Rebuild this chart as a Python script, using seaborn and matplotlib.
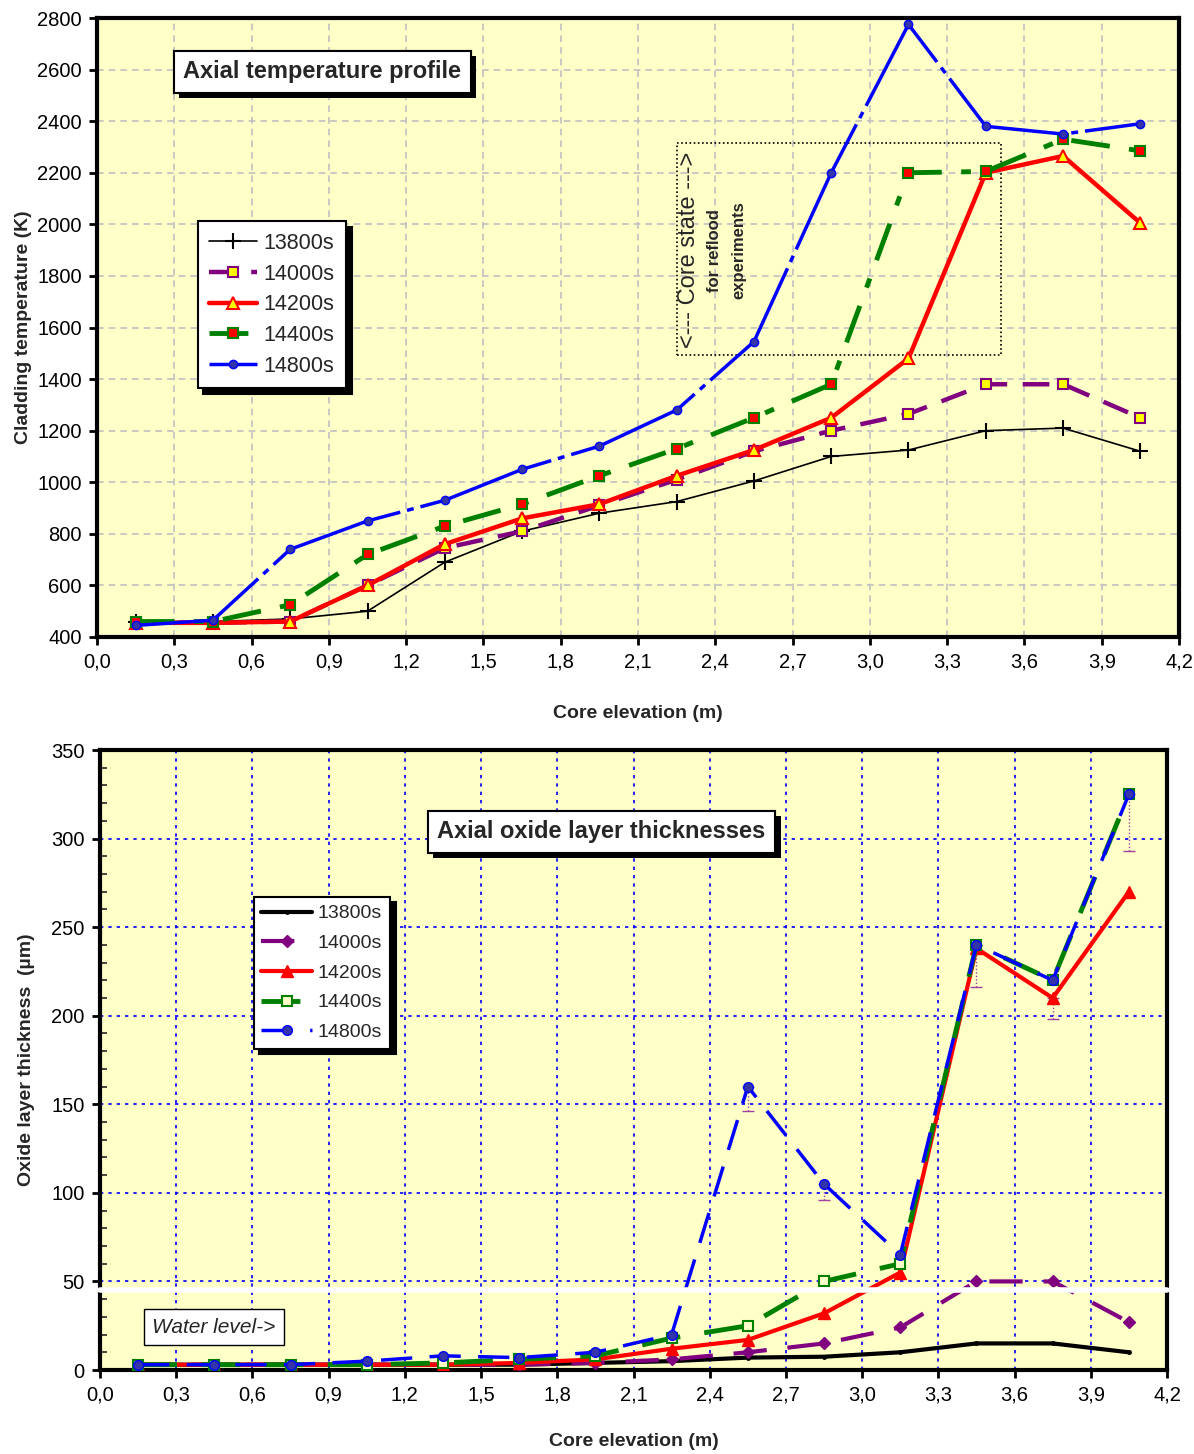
import numpy as np
import pandas as pd
import matplotlib
matplotlib.use("Agg")
import matplotlib.pyplot as plt
import matplotlib.patheffects as pe
from matplotlib.patches import Rectangle
from matplotlib.ticker import FuncFormatter, MultipleLocator
import seaborn as sns

# ---------------- data ----------------
elevation = [0.15, 0.45, 0.75, 1.05, 1.35, 1.65, 1.95, 2.25, 2.55, 2.85, 3.15, 3.45, 3.75, 4.05]
series_names = ["13800s", "14000s", "14200s", "14400s", "14800s"]

temp_13800 = [460, 460, 470, 500, 690, 810, 880, 925, 1005, 1100, 1125, 1200, 1210, 1120]
temp_14000 = [455, 455, 460, 600, 745, 810, 910, 1010, 1120, 1200, 1265, 1380, 1380, 1250]
temp_14200 = [455, 455, 460, 600, 760, 860, 915, 1025, 1125, 1250, 1480, 2200, 2265, 2005]
temp_14400 = [460, 460, 525, 720, 830, 915, 1025, 1130, 1250, 1380, 2200, 2205, 2330, 2285]
temp_14800 = [445, 465, 740, 850, 930, 1050, 1140, 1280, 1545, 2200, 2775, 2380, 2350, 2390]

ox_13800 = [3, 3, 3, 3, 3, 3, 4, 5, 7, 7.5, 10, 15, 15, 10]
ox_14000 = [3, 3, 3, 3, 3, 3, 4, 6, 10, 15, 24, 50, 50, 27]
ox_14200 = [3, 3, 3, 3, 3, 4, 6, 12, 17, 32, 55, 238, 210, 270]
ox_14400 = [3, 3, 3, 3, 4, 6, 8, 18, 25, 50, 60, 240, 220, 325]
ox_14800 = [3, 3, 3, 5, 8, 7, 10, 20, 160, 105, 65, 240, 220, 325]

err_x = [2.55, 2.85, 3.45, 3.75, 4.05]
err_hi = [160, 105, 240, 210, 325]
err_lo = [146, 96, 216, 198, 293]

water_level = 45

x_ticks = [0.0, 0.3, 0.6, 0.9, 1.2, 1.5, 1.8, 2.1, 2.4, 2.7, 3.0, 3.3, 3.6, 3.9, 4.2]
temp_ticks = list(range(400, 2801, 200))
ox_ticks = list(range(0, 351, 50))

# ---------------- style ----------------
sns.set_style("ticks")
plt.rcParams['font.family'] = ['Liberation Sans', 'DejaVu Sans']
plt.rcParams['axes.unicode_minus'] = False

BG = "#FFFFC8"
fig = plt.figure(figsize=(11.94, 14.54), dpi=100)
fig.patch.set_facecolor("white")

ax1 = fig.add_axes([97/1194, 1-637/1454, (1179-97)/1194, (637-18)/1454])
ax2 = fig.add_axes([100/1194, 1-1370/1454, (1167-100)/1194, (1370-750)/1454])

comma = FuncFormatter(lambda v, p: f"{v:.1f}".replace(".", ","))

def frame(ax):
    ax.set_facecolor(BG)
    for s in ax.spines.values():
        s.set_color("black")
        s.set_linewidth(3)
    ax.tick_params(axis="both", which="major", direction="out", length=6, width=2,
                   labelsize=14.5, pad=5, colors="black")

# ---------------- top chart ----------------
frame(ax1)
temp_df = pd.DataFrame({"x": elevation, "13800s": temp_13800, "14000s": temp_14000,
                        "14200s": temp_14200, "14400s": temp_14400, "14800s": temp_14800})

top_styles = {
    "13800s": dict(color="black", lw=1.2, ls="-", marker="+", ms=11, mfc="black", mec="black", mew=1.5),
    "14000s": dict(color="#800080", lw=3.2, ls=(0, (6, 3.5)), marker="s", ms=7, mfc="yellow", mec="#800080", mew=1.5),
    "14200s": dict(color="red", lw=3.2, ls="-", marker="^", ms=8, mfc="yellow", mec="red", mew=1.5),
    "14400s": dict(color="#008000", lw=3.5, ls=(0, (8, 4, 2, 4)), marker="s", ms=7, mfc="red", mec="#008000", mew=1.5),
    "14800s": dict(color="blue", lw=2.5, ls=(0, (40, 2, 2, 2)), marker="o", ms=6, mfc="#3333AA", mec="blue", mew=1),
}
for name in series_names:
    st = top_styles[name]
    sns.lineplot(data=temp_df, x="x", y=name, ax=ax1, label=name, color=st["color"],
                 linewidth=st["lw"], linestyle=st["ls"], marker=st["marker"], markersize=st["ms"],
                 markerfacecolor=st["mfc"], markeredgecolor=st["mec"], markeredgewidth=st["mew"],
                 zorder=3)

ax1.set_xlim(0, 4.2)
ax1.set_ylim(400, 2800)
ax1.set_xticks(x_ticks)
ax1.set_yticks(temp_ticks)
ax1.xaxis.set_major_formatter(comma)
ax1.grid(True, color="#C0C0C0", linestyle=(0, (4, 3)), linewidth=1.2)
ax1.set_axisbelow(True)
ax1.set_xlabel("Core elevation (m)", fontsize=14, fontweight="bold", labelpad=24)
ax1.set_ylabel("Cladding temperature (K)", fontsize=14, fontweight="bold", labelpad=4)

leg1 = ax1.legend(loc="upper left", bbox_to_anchor=(0.093, 0.672), fontsize=15.5,
                  frameon=True, fancybox=False, edgecolor="black", framealpha=1,
                  handlelength=2.2, labelspacing=0.45, borderpad=0.55, handletextpad=0.3,
                  borderaxespad=0,
                  shadow={"color": "black", "alpha": 1, "ox": 4, "oy": -4})
leg1.get_frame().set_linewidth(1.5)

t1 = ax1.text(0.208, 0.913, "Axial temperature profile", transform=ax1.transAxes,
              ha="center", va="center", fontsize=17, fontweight="bold", zorder=6,
              bbox=dict(boxstyle="square,pad=0.4", fc="white", ec="black", lw=1.5))
t1.get_bbox_patch().set_path_effects([pe.withSimplePatchShadow(offset=(4, -4), shadow_rgbFace="black", alpha=1), pe.Normal()])

ax1.add_patch(Rectangle((2.25, 1494), 1.26, 821, fill=False, ec="black", lw=1.2,
                        ls=(0, (1, 1.5)), zorder=2))
ax1.text(2.298, 1900, "<--- Core state --->", rotation=90, ha="center", va="center",
         fontsize=17, zorder=4)
ax1.text(2.398, 1900, "for reflood", rotation=90, ha="center", va="center",
         fontsize=12, fontweight="bold", zorder=4)
ax1.text(2.49, 1900, "experiments", rotation=90, ha="center", va="center",
         fontsize=12, fontweight="bold", zorder=4)

# ---------------- bottom chart ----------------
frame(ax2)
ox_df = pd.DataFrame({"x": elevation, "13800s": ox_13800, "14000s": ox_14000,
                      "14200s": ox_14200, "14400s": ox_14400, "14800s": ox_14800})

bot_styles = {
    "13800s": dict(color="black", lw=3, ls="-", marker="o", ms=2.5, mfc="black", mec="black", mew=1),
    "14000s": dict(color="#800080", lw=3, ls=(0, (8, 5)), marker="D", ms=6, mfc="#800080", mec="#800080", mew=1),
    "14200s": dict(color="red", lw=3, ls="-", marker="^", ms=8, mfc="red", mec="red", mew=1),
    "14400s": dict(color="#008000", lw=3.5, ls=(0, (8, 5)), marker="s", ms=7, mfc=BG, mec="#008000", mew=1.5),
    "14800s": dict(color="blue", lw=2.5, ls=(0, (9, 5)), marker="o", ms=7, mfc="#3333AA", mec="blue", mew=1),
}
for name in series_names:
    st = bot_styles[name]
    sns.lineplot(data=ox_df, x="x", y=name, ax=ax2, label=name, color=st["color"],
                 linewidth=st["lw"], linestyle=st["ls"], marker=st["marker"], markersize=st["ms"],
                 markerfacecolor=st["mfc"], markeredgecolor=st["mec"], markeredgewidth=st["mew"],
                 zorder=3)

err_mid = np.array(err_hi)
yerr = np.vstack([np.array(err_hi) - np.array(err_lo), np.zeros(len(err_hi))])
eb = ax2.errorbar(err_x, err_mid, yerr=yerr, fmt="none", ecolor="#A040A0", elinewidth=1,
                  capsize=4, capthick=1, zorder=2)
for ln in eb[2]:
    ln.set_linestyle((0, (1, 1.5)))

ax2.set_xlim(0, 4.2)
ax2.set_ylim(0, 350)
ax2.set_xticks(x_ticks)
ax2.set_yticks(ox_ticks)
ax2.yaxis.set_minor_locator(MultipleLocator(10))
ax2.tick_params(axis="y", which="minor", direction="in", length=5, width=1.2)
ax2.xaxis.set_major_formatter(comma)
ax2.grid(True, which="major", color="blue", linestyle=(0, (2, 3)), linewidth=1.2)
ax2.set_axisbelow(True)
ax2.set_xlabel("Core elevation (m)", fontsize=14, fontweight="bold", labelpad=21)
ax2.set_ylabel("Oxide layer thickness  (µm)", fontsize=14, fontweight="bold", labelpad=12)

ax2.axhline(water_level, color="white", lw=4, zorder=5, clip_on=False)

leg2 = ax2.legend(loc="upper left", bbox_to_anchor=(0.144, 0.763), fontsize=14,
                  frameon=True, fancybox=False, edgecolor="black", framealpha=1,
                  handlelength=2.6, labelspacing=0.62, borderpad=0.4, handletextpad=0.3,
                  borderaxespad=0,
                  shadow={"color": "black", "alpha": 1, "ox": 4, "oy": -4})
leg2.get_frame().set_linewidth(1.5)

t2 = ax2.text(0.470, 0.868, "Axial oxide layer thicknesses", transform=ax2.transAxes,
              ha="center", va="center", fontsize=17, fontweight="bold", zorder=6,
              bbox=dict(boxstyle="square,pad=0.4", fc="white", ec="black", lw=1.5))
t2.get_bbox_patch().set_path_effects([pe.withSimplePatchShadow(offset=(4, -4), shadow_rgbFace="black", alpha=1), pe.Normal()])

ax2.text(0.1065, 0.069, "Water level->", transform=ax2.transAxes, ha="center", va="center",
         fontsize=15, fontstyle="italic", zorder=6,
         bbox=dict(boxstyle="square,pad=0.4", fc="white", ec="black", lw=1))

fig.savefig("out.png", dpi=100, facecolor="white")
